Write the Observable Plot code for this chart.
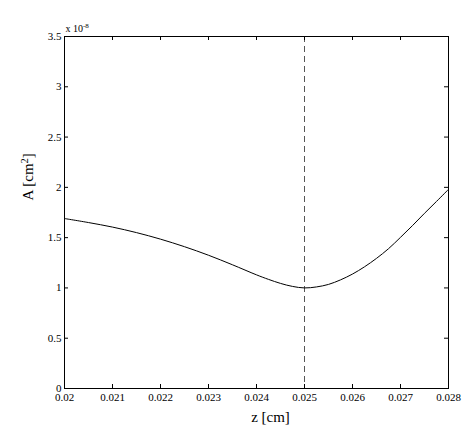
<!DOCTYPE html>
<html><head><meta charset="utf-8">
<script src="https://cdn.jsdelivr.net/npm/d3@7"></script>
<script src="https://cdn.jsdelivr.net/npm/@observablehq/plot@0.6"></script>
<style>
html,body{margin:0;padding:0;background:#fff;}
#chart svg, #chart svg text, #chart svg tspan { font-family: "Liberation Serif", "DejaVu Serif", serif !important; }
</style>
</head><body><div id="chart"></div>
<script>
const zValues = [0.02, 0.0205, 0.021, 0.0215, 0.022, 0.0225, 0.023, 0.0235, 0.024, 0.02425, 0.0245, 0.02475, 0.025, 0.02525, 0.0255, 0.02575, 0.026, 0.02625, 0.0265, 0.02675, 0.027, 0.02725, 0.0275, 0.02775, 0.028];
const areaValues = [1.69, 1.65, 1.605, 1.55, 1.485, 1.41, 1.325, 1.23, 1.13, 1.085, 1.045, 1.015, 1.0, 1.01, 1.035, 1.08, 1.138, 1.21, 1.294, 1.39, 1.503, 1.62, 1.742, 1.86, 1.98];
const xTicks = [0.02, 0.021, 0.022, 0.023, 0.024, 0.025, 0.026, 0.027, 0.028];
const yTicks = [0, 0.5, 1, 1.5, 2, 2.5, 3, 3.5];
const throatZ = [0.025];
const xLabel = "z [cm]";
const yLabel = "A [cm^2]";
const scaleLabel = "x 10^-8";

const W = 463, H = 436, mL = 64, mR = 15, mT = 36, mB = 48;
const plotH = H - mT - mB, plotW = W - mL - mR;
const data = zValues.map((z, i) => ({z, A: areaValues[i]}));

const svg = Plot.plot({
  width: W, height: H,
  marginLeft: mL, marginRight: mR, marginTop: mT, marginBottom: mB,
  style: {fontFamily: "Liberation Serif", fontSize: "11px", color: "black", background: "white"},
  x: {domain: [0.02, 0.028]},
  y: {domain: [0, 3.5]},
  marks: [
    Plot.ruleX(throatZ, {x: d => d, stroke: "#555", strokeDasharray: "6,4", strokeWidth: 1}),
    Plot.line(data, {x: "z", y: "A", stroke: "black", strokeWidth: 1, curve: "catmull-rom"}),
    Plot.tickX(xTicks, {x: d => d, insetTop: plotH - 4, stroke: "black"}),
    Plot.tickX(xTicks, {x: d => d, insetBottom: plotH - 4, stroke: "black"}),
    Plot.tickY(yTicks, {y: d => d, insetRight: plotW - 4, stroke: "black"}),
    Plot.tickY(yTicks, {y: d => d, insetLeft: plotW - 4, stroke: "black"}),
    Plot.axisX({ticks: xTicks, tickSize: 0, tickPadding: 5, tickFormat: d => String(d), label: null}),
    Plot.axisY({ticks: yTicks, tickSize: 0, tickPadding: 3, tickFormat: d => String(d), label: null}),
    Plot.frame({stroke: "black", strokeWidth: 1}),
    Plot.text([xLabel], {frameAnchor: "bottom", dx: 14, dy: 29, lineAnchor: "middle", fontSize: 15}),
    Plot.text([yLabel], {frameAnchor: "left", dx: -36, dy: -12, rotate: -90, lineAnchor: "middle", fontSize: 15}),
    Plot.text([scaleLabel], {frameAnchor: "top-left", dx: 1, dy: -5, textAnchor: "start", lineAnchor: "bottom", fontSize: 10})
  ]
});

d3.select(svg).selectAll("text").each(function () {
  const t = this.textContent;
  const m = t.match(/^(.*)\^(-?\d+)(.*)$/);
  if (!m) return;
  const sel = d3.select(this);
  sel.text(null);
  sel.append("tspan").text(m[1]);
  sel.append("tspan").attr("baseline-shift", "super").attr("font-size", "0.7em").text(m[2]);
  if (m[3]) sel.append("tspan").text(m[3]);
});

document.getElementById("chart").appendChild(svg);
</script>
</body></html>
